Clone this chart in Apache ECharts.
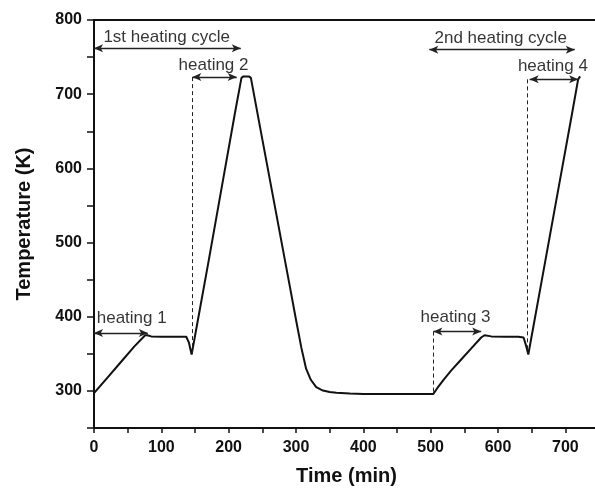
<!DOCTYPE html>
<html>
<head>
<meta charset="utf-8">
<script src="https://cdn.jsdelivr.net/npm/echarts@6/dist/echarts.min.js"></script>
<style>
  html, body { margin: 0; padding: 0; background: #fff; }
</style>
</head>
<body>
<div id="chartMain" style="width: 595px; height: 490px;"></div>
<script>
  // temperature profile
  var timeData = [0, 20, 40, 60, 76, 79, 85, 100, 120, 137, 141, 145, 150, 170, 190, 210, 219, 222, 230, 233,
    250, 270, 290, 300, 308, 315, 322, 330, 340, 350, 360, 380, 400, 450, 504,
    510, 520, 530, 545, 560, 575, 580, 590, 610, 630, 638, 642, 645, 650, 670, 690, 710, 719, 722];
  var tempData = [297, 318, 339, 360, 375, 375, 373.5, 373, 373, 373, 365, 349, 374, 474, 576, 678, 722, 724, 724, 722,
    639, 542, 445, 396, 358, 330, 315, 305, 300.5, 298.5, 297.5, 296.5, 296, 296, 296,
    304, 316, 327, 342, 357, 372, 375, 373.5, 373, 373, 372, 360, 349, 374, 474, 574, 674, 720, 724];

  // double arrows: [x1, y1, x2, y2]
  var arrowLines = [
    [0, 762, 218, 762],
    [0, 378, 80, 378],
    [146, 723, 212, 723],
    [504, 380, 575, 380],
    [498, 760, 714, 760],
    [647, 720, 719, 720]
  ];
  // dashed guides: [x, yTop, yBottom]
  var guideLines = [
    [145.5, 723, 350],
    [504, 380, 296],
    [644, 720, 350]
  ];
  var noteNames = ['1st heating cycle', 'heating 2', 'heating 1', 'heating 3', '2nd heating cycle', 'heating 4'];
  var noteX = [108, 177.5, 56, 537, 604, 681.5];
  var noteY = [777, 739, 398, 399.5, 775, 737];

  var xTicks = [0, 100, 200, 300, 400, 500, 600, 700];
  var yTicks = [300, 400, 500, 600, 700, 800];

  var chartMain = echarts.init(document.getElementById('chartMain'));

  var curve = [];
  for (var i = 0; i < timeData.length; i++) {
    curve.push([timeData[i], tempData[i]]);
  }
  var arrowData = arrowLines.map(function (a) {
    return [{coord: [a[0], a[1]]}, {coord: [a[2], a[3]]}];
  });
  var guideData = guideLines.map(function (g) {
    return [{coord: [g[0], g[1]]}, {coord: [g[0], g[2]]}];
  });
  var noteData = noteNames.map(function (n, i) {
    return {name: n, value: [noteX[i], noteY[i]]};
  });

  var labelFont = {fontFamily: 'Liberation Sans', fontWeight: 'bold', fontSize: 16, color: '#111'};
  var nameFont = {fontFamily: 'Liberation Sans', fontWeight: 'bold', fontSize: 20, color: '#111'};

  var option = {
    animation: false,
    grid: {
      left: 94, top: 20, width: 505, height: 408,
      outerBoundsMode: 'none',
      containLabel: false,
      show: true, borderColor: '#111', borderWidth: 2
    },
    xAxis: {
      type: 'value',
      min: 0, max: 750, interval: 50,
      name: 'Time (min)',
      nameLocation: 'middle',
      nameGap: 38,
      nameTextStyle: nameFont,
      axisLine: {show: true, onZero: false, lineStyle: {color: '#111', width: 2}},
      axisTick: {show: true, length: 5, lineStyle: {color: '#111', width: 1.5}},
      axisLabel: Object.assign({
        margin: 12,
        formatter: function (v) { return xTicks.indexOf(v) >= 0 ? String(v) : ''; }
      }, labelFont),
      splitLine: {show: false}
    },
    yAxis: {
      type: 'value',
      min: 250, max: 800, interval: 50,
      name: 'Temperature (K)',
      nameLocation: 'middle',
      nameGap: 60,
      nameTextStyle: nameFont,
      axisLine: {show: true, onZero: false, lineStyle: {color: '#111', width: 2}},
      axisTick: {show: true, length: 7, lineStyle: {color: '#111', width: 1.5}},
      axisLabel: Object.assign({
        margin: 12,
        formatter: function (v) { return yTicks.indexOf(v) >= 0 ? String(v) : ''; }
      }, labelFont),
      splitLine: {show: false}
    },
    series: [
      {
        type: 'line',
        data: curve,
        symbol: 'none',
        lineStyle: {color: '#111', width: 2},
        silent: true
      },
      {
        type: 'line',
        data: [],
        markLine: {
          silent: true,
          symbol: ['arrow', 'arrow'],
          symbolSize: [6, 9],
          label: {show: false},
          lineStyle: {color: '#222', width: 1.3, type: 'solid'},
          data: arrowData
        }
      },
      {
        type: 'line',
        data: [],
        markLine: {
          silent: true,
          symbol: 'none',
          label: {show: false},
          lineStyle: {color: '#222', width: 1, type: [4, 3]},
          data: guideData
        }
      },
      {
        type: 'scatter',
        data: noteData,
        symbolSize: 0,
        silent: true,
        label: {
          show: true,
          position: 'inside',
          formatter: '{b}',
          fontFamily: 'Liberation Sans',
          fontSize: 17,
          color: '#000'
        }
      }
    ]
  };

  chartMain.setOption(option);
</script>
</body>
</html>
